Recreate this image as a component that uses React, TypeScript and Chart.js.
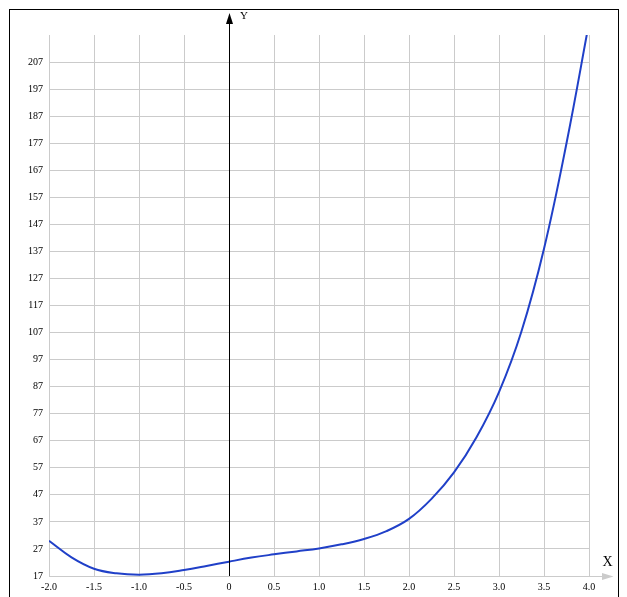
import React, { useEffect, useRef } from "react";
import { Chart, registerables } from "chart.js";

Chart.register(...registerables);

const xValues = [
  -2, -1.75, -1.5, -1.25, -1, -0.75, -0.5, -0.25, 0, 0.25, 0.5, 0.75, 1, 1.25,
  1.5, 1.75, 2, 2.25, 2.5, 2.75, 3, 3.25, 3.5, 3.75, 4,
];
const yValues = [
  30.0, 23.9, 19.7, 18.0, 17.5, 18.0, 19.2, 20.7, 22.3, 23.8, 25.0, 26.1, 27.2,
  28.7, 30.7, 33.6, 38.1, 45.5, 55.3, 68.3, 85.0, 107.5, 138.0, 177.0, 221.5,
];
const xTicks = [-2, -1.5, -1, -0.5, 0, 0.5, 1, 1.5, 2, 2.5, 3, 3.5, 4];
const yTicks = [17, 27, 37, 47, 57, 67, 77, 87, 97, 107, 117, 127, 137, 147, 157, 167, 177, 187, 197, 207];
const xAxisLabel = "X";
const yAxisLabel = "Y";

const GRID = "#cbcbcb";
const CURVE = "#2040c8";
const FONT = "'Liberation Serif', 'Times New Roman', serif";

const axesPlugin = {
  id: "arrowAxes",
  afterDraw(chart: any) {
    const { ctx, chartArea, scales } = chart;
    const xs = scales.x;
    const x0 = Math.round(xs.getPixelForValue(0)) + 0.5;
    const yb = chartArea.bottom;
    ctx.save();
    // Y axis (black) with arrow
    ctx.strokeStyle = "#000";
    ctx.fillStyle = "#000";
    ctx.lineWidth = 1;
    ctx.beginPath();
    ctx.moveTo(x0, yb);
    ctx.lineTo(x0, 8);
    ctx.stroke();
    ctx.beginPath();
    ctx.moveTo(x0, 3);
    ctx.lineTo(x0 - 3.5, 14);
    ctx.lineTo(x0 + 3.5, 14);
    ctx.closePath();
    ctx.fill();
    ctx.font = "11px " + FONT;
    ctx.textAlign = "left";
    ctx.textBaseline = "alphabetic";
    ctx.fillText(yAxisLabel, x0 + 10.5, 9);
    // X axis extension (gray) with arrow
    const yl = Math.round(yb) + 0.5;
    ctx.strokeStyle = GRID;
    ctx.fillStyle = GRID;
    ctx.beginPath();
    ctx.moveTo(chartArea.right, yl);
    ctx.lineTo(595, yl);
    ctx.stroke();
    ctx.beginPath();
    ctx.moveTo(603.5, yl);
    ctx.lineTo(592, yl - 3.5);
    ctx.lineTo(592, yl + 3.5);
    ctx.closePath();
    ctx.fill();
    ctx.fillStyle = "#000";
    ctx.font = "14px " + FONT;
    ctx.textAlign = "center";
    ctx.fillText(xAxisLabel, 597.5, 556);
    ctx.restore();
  },
};

export default function App() {
  const ref = useRef<HTMLCanvasElement | null>(null);
  useEffect(() => {
    if (!ref.current) return;
    const chart = new Chart(ref.current, {
      type: "scatter",
      data: {
        datasets: [
          {
            data: xValues.map((x, i) => ({ x, y: yValues[i] })),
            showLine: true,
            borderColor: CURVE,
            backgroundColor: CURVE,
            borderWidth: 2,
            pointRadius: 0,
            pointHoverRadius: 0,
            tension: 0.4,
            fill: false,
          },
        ],
      },
      options: {
        responsive: false,
        animation: false,
        events: [],
        layout: { padding: { top: 25, right: 29, left: 0, bottom: 0 } },
        plugins: {
          legend: { display: false },
          tooltip: { enabled: false },
          title: { display: false },
        },
        scales: {
          x: {
            type: "linear",
            min: -2,
            max: 4,
            afterBuildTicks: (s: any) => {
              s.ticks = xTicks.map((v) => ({ value: v }));
            },
            afterFit: (s: any) => {
              s.height = 20;
            },
            border: { display: false },
            grid: { color: GRID, lineWidth: 1, drawTicks: false },
            ticks: {
              autoSkip: false,
              maxRotation: 0,
              padding: 5,
              color: "#000",
              font: { family: FONT, size: 10 },
              callback: (v: any) => (Number(v) === 0 ? "0" : Number(v).toFixed(1)),
            },
          },
          y: {
            type: "linear",
            min: 17,
            max: 217,
            afterBuildTicks: (s: any) => {
              s.ticks = yTicks.map((v) => ({ value: v }));
            },
            afterFit: (s: any) => {
              s.width = 39;
            },
            border: { display: false },
            grid: { color: GRID, lineWidth: 1, drawTicks: false },
            ticks: {
              autoSkip: false,
              padding: 6,
              color: "#000",
              font: { family: FONT, size: 10 },
              callback: (v: any) => String(v),
            },
          },
        },
      },
      plugins: [axesPlugin],
    });
    return () => chart.destroy();
  }, []);

  return (
    <div
      style={{
        position: "absolute",
        left: 9,
        top: 9,
        width: 608,
        height: 590,
        border: "1px solid #000",
        background: "#fff",
      }}
    >
      <canvas ref={ref} width={608} height={586} style={{ display: "block", width: 608, height: 586 }} />
    </div>
  );
}
